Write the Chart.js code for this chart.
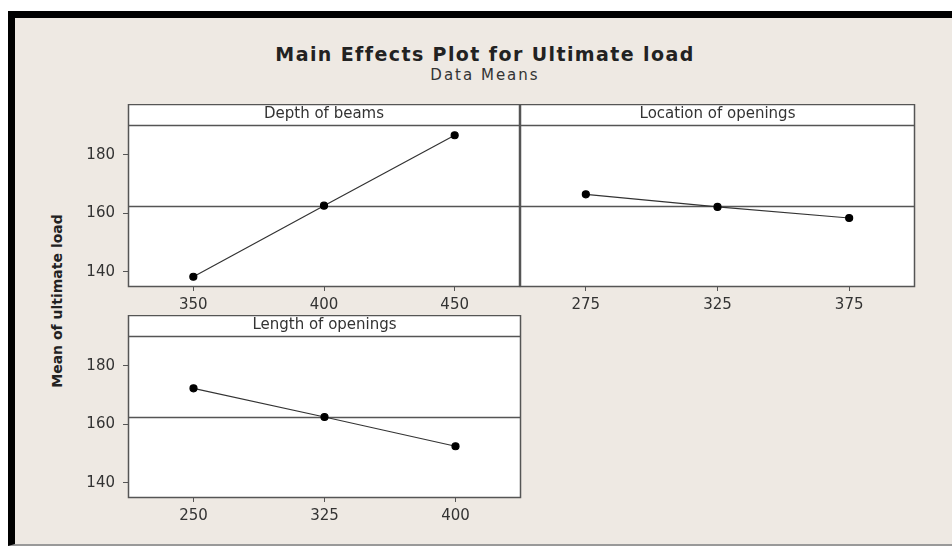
<!DOCTYPE html><html lang="en">
<head>
  <meta charset="UTF-8" />
  <title>Main Effects Plot for Ultimate load</title>
  <script src="https://cdn.jsdelivr.net/npm/chart.js"></script>
  <style>
    body { margin: 0; background: #fff; width: 952px; height: 546px; overflow: hidden; position: relative; font-family: 'DejaVu Sans', sans-serif; }
    .frame { position: absolute; left: 8px; top: 11px; width: 937px; height: 526px; background: #eee9e3; border-left: 7px solid #000; border-top: 7px solid #000; border-bottom: 2px solid #999; }
    .title { position: absolute; left: 0; width: 970px; top: 43px; text-align: center; font: bold 19px 'DejaVu Sans', sans-serif; letter-spacing: 1.4px; color: #222; }
    .subtitle { position: absolute; left: 0; width: 970px; top: 66px; text-align: center; font: 15px 'DejaVu Sans', sans-serif; letter-spacing: 2px; color: #333; }
    .ylabel { position: absolute; left: 57px; top: 301px; transform: translate(-50%, -50%) rotate(-90deg); white-space: nowrap; font: bold 14px 'DejaVu Sans', sans-serif; color: #222; }
    canvas { position: absolute; }
  </style>
</head>
<body>
  <div class="frame"></div>
  <div class="title">Main Effects Plot for Ultimate load</div>
  <div class="subtitle">Data Means</div>
  <div class="ylabel">Mean of ultimate load</div>
  <canvas id="c1" width="444" height="213" style="left:78px; top:104px"></canvas>
  <canvas id="c2" width="400" height="213" style="left:518px; top:104px"></canvas>
  <canvas id="c3" width="445" height="213" style="left:78px; top:315px"></canvas>
  <script>
// data
const depthLevels = ["350", "400", "450"];
const depthMeans = [138.3, 162.6, 186.7];
const locationLevels = ["275", "325", "375"];
const locationMeans = [166.5, 162.2, 158.4];
const lengthLevels = ["250", "325", "400"];
const lengthMeans = [172.3, 162.5, 152.5];
const grandMean = 162.4;
const yTicks = [140, 160, 180];

const stripHeight = 21;

// white panel, strip box with factor name, mean reference line
const panelPlugin = {
  id: 'panel',
  beforeDraw(chart, args, opts) {
    const a = chart.chartArea, ctx = chart.ctx;
    ctx.save();
    ctx.fillStyle = '#fff';
    ctx.fillRect(a.left, a.top - stripHeight, a.right - a.left, a.bottom - a.top + stripHeight);
    ctx.restore();
  },
  beforeDatasetsDraw(chart) {
    const a = chart.chartArea, ctx = chart.ctx;
    const y = Math.round(chart.scales.y.getPixelForValue(grandMean)) + 0.5;
    ctx.save();
    ctx.strokeStyle = '#555';
    ctx.lineWidth = 1.3;
    ctx.beginPath();
    ctx.moveTo(a.left, y);
    ctx.lineTo(a.right, y);
    ctx.stroke();
    ctx.restore();
  },
  afterDraw(chart, args, opts) {
    const a = chart.chartArea, ctx = chart.ctx;
    ctx.save();
    ctx.strokeStyle = '#555';
    ctx.lineWidth = 1.5;
    ctx.strokeRect(a.left + 0.5, a.top - stripHeight + 0.5, a.right - a.left - 1, a.bottom - a.top + stripHeight - 1);
    ctx.beginPath();
    ctx.moveTo(a.left, a.top + 0.5);
    ctx.lineTo(a.right, a.top + 0.5);
    ctx.stroke();
    ctx.fillStyle = '#333';
    ctx.font = '15px "DejaVu Sans", sans-serif';
    ctx.textAlign = 'center';
    ctx.textBaseline = 'middle';
    ctx.fillText(opts.label, (a.left + a.right) / 2, a.top - stripHeight / 2);
    ctx.restore();
  }
};

function makePanel(id, levels, means, label, showY, pad) {
  new Chart(document.getElementById(id), {
    type: 'line',
    data: {
      labels: levels,
      datasets: [{
        data: means,
        borderColor: '#333',
        borderWidth: 1.2,
        pointRadius: 3.5,
        pointBackgroundColor: '#000',
        pointBorderColor: '#000',
        tension: 0
      }]
    },
    options: {
      responsive: false,
      animation: false,
      devicePixelRatio: 1,
      layout: { padding: pad, autoPadding: false },
      plugins: { legend: { display: false }, tooltip: { enabled: false }, title: { display: false }, panel: { label: label } },
      scales: {
        x: {
          type: 'category',
          offset: true,
          grid: { drawOnChartArea: false, drawTicks: true, tickLength: 4, tickColor: '#555', offset: false },
          border: { display: false },
          ticks: { color: '#333', padding: 5, font: { family: 'DejaVu Sans', size: 15 } },
          afterFit: s => { s.height = 30; }
        },
        y: {
          display: showY,
          min: 134.8,
          max: 190.2,
          grid: { drawOnChartArea: false, drawTicks: true, tickLength: 5, tickColor: '#555' },
          border: { display: false },
          ticks: { color: '#333', padding: 8, font: { family: 'DejaVu Sans', size: 15 } },
          afterBuildTicks: s => { s.ticks = yTicks.map(v => ({ value: v })); },
          afterFit: s => { s.width = showY ? 50 : 0; }
        }
      }
    },
    plugins: [panelPlugin]
  });
}

makePanel('c1', depthLevels, depthMeans, 'Depth of beams', true, { top: stripHeight, right: 2, left: 0, bottom: 0 });
makePanel('c2', locationLevels, locationMeans, 'Location of openings', false, { top: stripHeight, right: 3, left: 2, bottom: 0 });
makePanel('c3', lengthLevels, lengthMeans, 'Length of openings', true, { top: stripHeight, right: 2, left: 0, bottom: 0 });
  </script>
</body>
</html>
